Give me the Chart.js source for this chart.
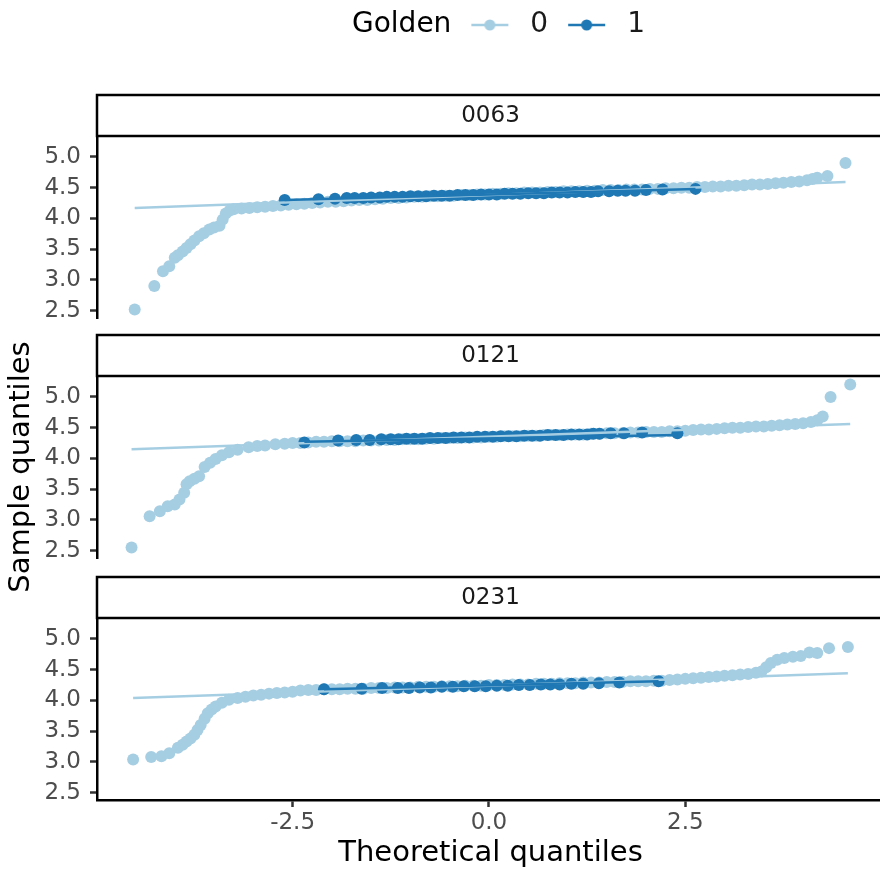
<!DOCTYPE html>
<html>
<head>
<meta charset="utf-8">
<title>Normal QQ plots by Golden</title>
<script src="https://cdn.jsdelivr.net/npm/chart.js@4.4.0/dist/chart.umd.min.js"></script>
<style>
  html, body { margin: 0; padding: 0; background: #fff; overflow: hidden; }
  #wrap { position: relative; width: 880px; height: 871px; overflow: hidden; }
  canvas { position: absolute; left: 0; }
</style>
</head>
<body>
<div id="wrap">
  <canvas id="p1" width="890" height="330" style="top:0px"></canvas>
  <canvas id="p2" width="890" height="310" style="top:300px"></canvas>
  <canvas id="p3" width="890" height="313" style="top:558px"></canvas>
</div>
<script>
// facetten en groepen
const panels = ['0063', '0121', '0231'];
const golden = ['0', '1'];
const xTicks = [-2.5, 0, 2.5];
const yTicks = [2.5, 3.0, 3.5, 4.0, 4.5, 5.0];

// punten [theoretisch kwantiel, steekproefkwantiel]
const q0063g0 = [[-4.51,2.52],[-4.26,2.90],[-4.15,3.14],[-4.07,3.22],[-4.00,3.36],[-3.96,3.40],[-3.90,3.46],[-3.85,3.52],[-3.80,3.58],[-3.75,3.64],[-3.69,3.71],[-3.63,3.76],[-3.56,3.82],[-3.50,3.85],[-3.43,3.88],[-3.39,3.98],[-3.35,4.08],[-3.30,4.13],[-3.25,4.15],[-3.15,4.16],[-3.05,4.17],[-2.95,4.18],[-2.85,4.19],[-2.75,4.20],[-2.65,4.21],[-2.55,4.22],[-2.45,4.23],[-2.35,4.24],[-2.25,4.25],[-2.15,4.26],[-2.05,4.27],[-1.95,4.27],[-1.85,4.28],[-1.75,4.29],[-1.65,4.30],[-1.55,4.30],[-1.45,4.31],[-1.35,4.32],[-1.25,4.33],[-1.15,4.33],[-1.05,4.34],[-0.95,4.35],[-0.85,4.35],[-0.75,4.36],[-0.65,4.36],[-0.55,4.37],[-0.45,4.37],[-0.35,4.38],[-0.25,4.38],[-0.15,4.39],[-0.05,4.39],[0.05,4.40],[0.15,4.40],[0.25,4.41],[0.35,4.41],[0.45,4.42],[0.55,4.42],[0.65,4.42],[0.75,4.43],[0.85,4.43],[0.95,4.44],[1.05,4.44],[1.15,4.44],[1.25,4.45],[1.35,4.45],[1.45,4.46],[1.55,4.46],[1.65,4.46],[1.75,4.47],[1.85,4.47],[1.95,4.47],[2.05,4.48],[2.15,4.48],[2.25,4.49],[2.35,4.49],[2.45,4.50],[2.55,4.50],[2.65,4.51],[2.75,4.51],[2.85,4.52],[2.95,4.52],[3.05,4.53],[3.15,4.53],[3.25,4.54],[3.35,4.55],[3.45,4.55],[3.55,4.56],[3.65,4.57],[3.75,4.58],[3.85,4.59],[3.95,4.60],[4.05,4.62],[4.12,4.64],[4.18,4.66],[4.31,4.69],[4.54,4.90]];
const q0063g1 = [[-2.60,4.30],[-2.17,4.31],[-1.96,4.32],[-1.81,4.33],[-1.71,4.33],[-1.60,4.33],[-1.50,4.34],[-1.39,4.34],[-1.30,4.35],[-1.20,4.35],[-1.10,4.35],[-1.00,4.36],[-0.90,4.36],[-0.80,4.36],[-0.70,4.37],[-0.60,4.37],[-0.50,4.37],[-0.40,4.38],[-0.30,4.38],[-0.20,4.38],[-0.10,4.39],[0.00,4.39],[0.10,4.39],[0.20,4.40],[0.30,4.40],[0.40,4.40],[0.50,4.41],[0.60,4.41],[0.70,4.41],[0.80,4.42],[0.90,4.42],[1.00,4.42],[1.10,4.43],[1.20,4.43],[1.30,4.43],[1.39,4.44],[1.53,4.44],[1.64,4.45],[1.74,4.45],[1.86,4.45],[2.00,4.46],[2.21,4.47],[2.63,4.48]];
const q0121g0 = [[-4.55,2.55],[-4.32,3.06],[-4.19,3.14],[-4.09,3.22],[-4.00,3.25],[-3.94,3.33],[-3.88,3.44],[-3.85,3.58],[-3.81,3.63],[-3.75,3.67],[-3.69,3.71],[-3.62,3.86],[-3.55,3.93],[-3.48,3.99],[-3.40,4.05],[-3.31,4.10],[-3.20,4.14],[-3.06,4.18],[-2.95,4.20],[-2.85,4.21],[-2.72,4.23],[-2.60,4.24],[-2.50,4.25],[-2.40,4.25],[-2.30,4.26],[-2.20,4.27],[-2.10,4.27],[-2.00,4.28],[-1.90,4.28],[-1.80,4.28],[-1.70,4.28],[-1.60,4.29],[-1.50,4.29],[-1.40,4.29],[-1.30,4.30],[-1.20,4.30],[-1.10,4.31],[-1.00,4.31],[-0.90,4.31],[-0.80,4.32],[-0.70,4.32],[-0.60,4.33],[-0.50,4.33],[-0.40,4.33],[-0.30,4.34],[-0.20,4.34],[-0.10,4.34],[0.00,4.35],[0.10,4.35],[0.20,4.36],[0.30,4.36],[0.40,4.36],[0.50,4.37],[0.60,4.37],[0.70,4.38],[0.80,4.38],[0.90,4.38],[1.00,4.39],[1.10,4.39],[1.20,4.39],[1.30,4.40],[1.40,4.40],[1.50,4.41],[1.60,4.41],[1.70,4.41],[1.80,4.42],[1.90,4.42],[2.00,4.43],[2.10,4.43],[2.20,4.43],[2.30,4.44],[2.40,4.44],[2.50,4.45],[2.60,4.46],[2.70,4.47],[2.80,4.47],[2.90,4.48],[3.00,4.49],[3.10,4.50],[3.20,4.50],[3.30,4.51],[3.40,4.52],[3.50,4.52],[3.60,4.53],[3.70,4.54],[3.80,4.55],[3.90,4.56],[4.00,4.57],[4.10,4.59],[4.18,4.62],[4.25,4.68],[4.35,5.00],[4.60,5.20]];
const q0121g1 = [[-2.35,4.26],[-1.92,4.29],[-1.69,4.30],[-1.52,4.30],[-1.37,4.31],[-1.25,4.31],[-1.15,4.31],[-1.05,4.32],[-0.95,4.32],[-0.85,4.32],[-0.75,4.33],[-0.65,4.33],[-0.55,4.33],[-0.45,4.34],[-0.35,4.34],[-0.25,4.34],[-0.15,4.35],[-0.05,4.35],[0.05,4.35],[0.15,4.36],[0.25,4.36],[0.35,4.36],[0.45,4.37],[0.55,4.37],[0.65,4.37],[0.75,4.38],[0.85,4.38],[0.95,4.38],[1.05,4.39],[1.15,4.39],[1.25,4.39],[1.33,4.40],[1.41,4.40],[1.55,4.41],[1.72,4.41],[1.95,4.42],[2.40,4.41]];
const q0231g0 = [[-4.53,3.04],[-4.30,3.08],[-4.17,3.09],[-4.07,3.14],[-3.96,3.23],[-3.90,3.28],[-3.85,3.33],[-3.80,3.38],[-3.75,3.44],[-3.71,3.52],[-3.67,3.60],[-3.62,3.70],[-3.58,3.79],[-3.53,3.85],[-3.48,3.90],[-3.40,3.96],[-3.31,4.01],[-3.20,4.04],[-3.10,4.06],[-3.00,4.08],[-2.90,4.09],[-2.80,4.11],[-2.70,4.12],[-2.60,4.13],[-2.50,4.14],[-2.40,4.16],[-2.30,4.17],[-2.20,4.17],[-2.10,4.18],[-2.00,4.18],[-1.90,4.18],[-1.80,4.19],[-1.70,4.19],[-1.60,4.19],[-1.50,4.20],[-1.40,4.20],[-1.30,4.20],[-1.20,4.21],[-1.10,4.21],[-1.00,4.21],[-0.90,4.22],[-0.80,4.22],[-0.70,4.22],[-0.60,4.23],[-0.50,4.23],[-0.40,4.23],[-0.30,4.24],[-0.20,4.24],[-0.10,4.24],[0.00,4.25],[0.10,4.25],[0.20,4.25],[0.30,4.26],[0.40,4.26],[0.50,4.26],[0.60,4.27],[0.70,4.27],[0.80,4.27],[0.90,4.28],[1.00,4.28],[1.10,4.28],[1.20,4.29],[1.30,4.29],[1.40,4.29],[1.50,4.30],[1.60,4.30],[1.70,4.30],[1.80,4.31],[1.90,4.31],[2.00,4.31],[2.10,4.32],[2.20,4.32],[2.30,4.33],[2.40,4.34],[2.50,4.35],[2.60,4.36],[2.70,4.37],[2.80,4.38],[2.90,4.39],[3.00,4.40],[3.10,4.41],[3.20,4.42],[3.30,4.43],[3.40,4.45],[3.47,4.47],[3.53,4.54],[3.59,4.61],[3.67,4.66],[3.76,4.69],[3.87,4.71],[3.97,4.72],[4.08,4.78],[4.18,4.77],[4.33,4.85],[4.57,4.87]];
const q0231g1 = [[-2.10,4.18],[-1.62,4.19],[-1.36,4.20],[-1.16,4.20],[-1.02,4.20],[-0.88,4.21],[-0.74,4.21],[-0.60,4.22],[-0.46,4.22],[-0.32,4.23],[-0.18,4.23],[-0.04,4.23],[0.10,4.24],[0.24,4.24],[0.38,4.25],[0.52,4.25],[0.66,4.26],[0.78,4.26],[0.90,4.26],[1.05,4.27],[1.20,4.27],[1.40,4.28],[1.66,4.29],[2.16,4.31]];

// qq-lijnen (begin- en eindpunt)
const line0063g0 = [[-4.51,4.17],[4.54,4.59]];
const line0063g1 = [[-2.60,4.30],[2.63,4.48]];
const line0121g0 = [[-4.55,4.15],[4.60,4.56]];
const line0121g1 = [[-2.35,4.27],[2.40,4.38]];
const line0231g0 = [[-4.53,4.04],[4.57,4.44]];
const line0231g1 = [[-2.10,4.18],[2.16,4.31]];

const colors = ['#a6cee3', '#1f78b4'];
const FONT = 'DejaVu Sans';
Chart.defaults.font.family = FONT;

// legendasymbool: lijn met punt
function legendSymbol(color) {
  const c = document.createElement('canvas');
  c.width = 55; c.height = 14;
  const g = c.getContext('2d');
  if (color) {
    g.strokeStyle = color; g.lineWidth = 2.5;
    g.beginPath(); g.moveTo(10, 7); g.lineTo(47, 7); g.stroke();
    g.fillStyle = color;
    g.beginPath(); g.arc(28.5, 7, 5.5, 0, Math.PI * 2); g.fill();
  }
  return c;
}
const blank = legendSymbol(null);
const symbols = colors.map(legendSymbol);

// strookje rond de facettitel
const stripBox = {
  id: 'stripBox',
  beforeDraw(chart) {
    const {ctx, chartArea, titleBlock} = chart;
    const b = titleBlock.bottom;
    ctx.save();
    ctx.fillStyle = '#fff';
    ctx.strokeStyle = '#000';
    ctx.lineWidth = 2.5;
    ctx.fillRect(chartArea.left, b - 41, chartArea.right - chartArea.left + 10, 41);
    ctx.strokeRect(chartArea.left, b - 41, chartArea.right - chartArea.left + 10, 41);
    ctx.restore();
  }
};

function makePanel(id, name, g0, g1, l0, l1, opt) {
  const ctx = document.getElementById(id).getContext('2d');
  const padLeft = opt.padding.left || 0;
  return new Chart(ctx, {
    type: 'scatter',
    data: {
      datasets: [
        {label: golden[0], data: g0, backgroundColor: colors[0], borderWidth: 0, pointRadius: 6, order: 4},
        {label: golden[1], data: g1, backgroundColor: colors[1], borderWidth: 0, pointRadius: 6, order: 3},
        {label: 'qq ' + golden[0], data: l0, showLine: true, borderColor: colors[0], borderWidth: 2.5, pointRadius: 0, order: 2},
        {label: 'qq ' + golden[1], data: l1, showLine: true, borderColor: colors[1], borderWidth: 2.5, pointRadius: 0, order: 1}
      ]
    },
    options: {
      responsive: false,
      animation: false,
      events: [],
      layout: {padding: opt.padding},
      plugins: {
        tooltip: {enabled: false},
        legend: {
          display: !!opt.legend,
          position: 'top',
          fullSize: true,
          weight: 3000,
          labels: {
            usePointStyle: true,
            pointStyleWidth: 55,
            padding: 10,
            font: {size: 28},
            color: '#000',
            generateLabels: () => [
              {text: 'Golden', pointStyle: blank, fillStyle: 'rgba(0,0,0,0)', strokeStyle: 'rgba(0,0,0,0)', lineWidth: 0, fontColor: '#000'},
              {text: golden[0], pointStyle: symbols[0], fillStyle: colors[0], strokeStyle: colors[0], lineWidth: 0, fontColor: '#1a1a1a'},
              {text: golden[1], pointStyle: symbols[1], fillStyle: colors[1], strokeStyle: colors[1], lineWidth: 0, fontColor: '#1a1a1a'}
            ]
          }
        },
        title: {
          display: true,
          text: name,
          fullSize: false,
          color: '#1a1a1a',
          font: {size: 23, weight: 'normal'},
          padding: {top: opt.stripGap + 7, bottom: 6.4}
        }
      },
      scales: {
        x: {
          type: 'linear',
          min: -4.99,
          max: 5.03,
          display: !!opt.xAxis,
          afterBuildTicks: s => { s.ticks = xTicks.map(v => ({value: v})); },
          afterFit: s => {
            if (opt.xAxis) s.height = 71;
            s.paddingLeft = 0; s.paddingRight = 0;
          },
          ticks: {callback: v => v.toFixed(1), color: '#4d4d4d', font: {size: 23}, padding: 2, maxRotation: 0, autoSkip: false},
          grid: {drawOnChartArea: false, tickLength: 7, tickColor: '#333', tickWidth: 2.5},
          border: {color: '#000', width: 2.5},
          title: {display: !!opt.xAxis, text: 'Theoretical quantiles', color: '#000', font: {size: 29}, padding: {top: 0, bottom: 0}}
        },
        y: {
          type: 'linear',
          min: 2.38,
          max: 5.34,
          afterBuildTicks: s => { s.ticks = yTicks.map(v => ({value: v})); },
          afterFit: s => { s.width = 97 - padLeft; s.paddingTop = 0; s.paddingBottom = 0; },
          ticks: {callback: v => v.toFixed(1), color: '#4d4d4d', font: {size: 23}, padding: 9, autoSkip: false},
          grid: {drawOnChartArea: false, tickLength: 7, tickColor: '#333', tickWidth: 2.5},
          border: {color: '#000', width: 2.5},
          title: {display: !!opt.yTitle, text: 'Sample quantiles', color: '#000', font: {size: 29}, padding: {top: 4, bottom: 0}}
        }
      }
    },
    plugins: [stripBox]
  });
}

makePanel('p1', panels[0], q0063g0, q0063g1, line0063g0, line0063g1, {legend: true, stripGap: 46, padding: {top: 1, bottom: 12, left: 38}});
makePanel('p2', panels[1], q0121g0, q0121g1, line0121g0, line0121g1, {yTitle: true, stripGap: 17, padding: {top: 18, bottom: 52}});
makePanel('p3', panels[2], q0231g0, q0231g1, line0231g0, line0231g1, {xAxis: true, stripGap: 19, padding: {top: 0, bottom: 0}});
</script>
</body>
</html>
